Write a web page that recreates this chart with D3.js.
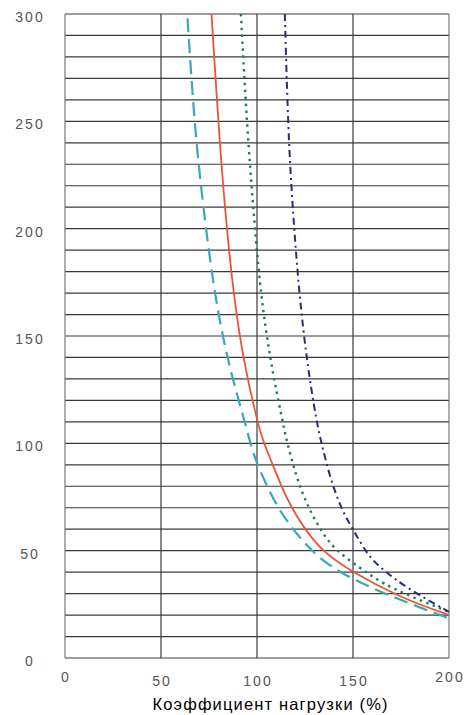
<!DOCTYPE html>
<html>
<head>
<meta charset="utf-8">
<script src="https://cdn.jsdelivr.net/npm/d3@7"></script>
<style>
  html, body { margin: 0; padding: 0; background: #fff; overflow: hidden; }
  svg { display: block; }
  .tick-label { font-family: "Liberation Sans", Arial, sans-serif; font-size: 14px; fill: #555; letter-spacing: 2px; }
  .axis-title { font-family: "Liberation Sans", Arial, sans-serif; font-size: 16.5px; fill: #000; }
</style>
</head>
<body>
<div id="chart"></div>
<script>
// axis ticks
const xTicks = [0, 50, 100, 150, 200];
const yTicks = [0, 50, 100, 150, 200, 250, 300];
const yGrid = d3.range(0, 301, 10);

// curves: [load %, value]
const redSolid = [[76.3, 300], [80.1, 246], [83.2, 210], [87.6, 170], [93, 138], [100.2, 110], [103, 101.5], [108.2, 90], [112.7, 80], [118, 70], [124.9, 60], [134.2, 49.5], [149.5, 40], [175, 28], [200, 20]];
const cyanDash = [[63.8, 298], [67.6, 246], [72, 210], [77.7, 170], [85, 137], [93.7, 110], [97.1, 98], [100, 90.5], [106.7, 77], [113.6, 66], [122.3, 56], [131, 47.5], [144.8, 38.7], [170, 28.5], [200, 18.5]];
const greenDot = [[91.6, 300], [94.9, 246], [98, 210], [101.8, 170], [107, 138], [113.4, 110], [115.3, 101.5], [120.5, 84.4], [125.7, 72], [132.7, 60], [140.5, 50.3], [155.2, 41], [168, 33], [200, 21.5]];
const navyDashDot = [[114.5, 300], [116.2, 246], [118.5, 210], [121.9, 170], [126, 138], [131, 110], [133.6, 100], [137.9, 84.4], [144, 69], [150, 60], [157, 48.8], [164, 42], [179.5, 31.7], [200, 21.5]];

const width = 470, height = 715;
const margin = { top: 14, right: 21, bottom: 57, left: 65 };
const innerWidth = width - margin.left - margin.right;
const innerHeight = height - margin.top - margin.bottom;

const svg = d3.select("#chart")
    .append("svg")
    .attr("width", width)
    .attr("height", height);

const xScale = d3.scaleLinear().domain([0, 200]).range([0, innerWidth]);
const yScale = d3.scaleLinear().domain([0, 300]).range([innerHeight, 0]);

const inner = svg.append("g")
    .attr("transform", `translate(${margin.left}, ${margin.top})`);

// horizontal grid
inner.selectAll(".hgrid")
    .data(yGrid)
    .join("line")
    .attr("class", "hgrid")
    .attr("x1", 0)
    .attr("x2", innerWidth)
    .attr("y1", d => yScale(d))
    .attr("y2", d => yScale(d))
    .attr("stroke", "#3a3a3a")
    .attr("stroke-width", 1.2);

// vertical grid
inner.selectAll(".vgrid")
    .data(xTicks)
    .join("line")
    .attr("class", "vgrid")
    .attr("x1", d => xScale(d))
    .attr("x2", d => xScale(d))
    .attr("y1", 0)
    .attr("y2", innerHeight)
    .attr("stroke", d => (d === 0 || d === 200) ? "#777" : "#3a3a3a")
    .attr("stroke-width", 1.2);

// tick labels
svg.selectAll(".ylab")
    .data(yTicks)
    .join("text")
    .attr("class", "tick-label ylab")
    .attr("x", 30)
    .attr("y", d => margin.top + yScale(d) + 8)
    .attr("text-anchor", "middle")
    .text(d => d);

svg.selectAll(".xlab")
    .data(xTicks)
    .join("text")
    .attr("class", "tick-label xlab")
    .attr("x", d => margin.left + xScale(d) + 1)
    .attr("y", (d, i) => (i === 0 || i === 4) ? 682 : 686)
    .attr("text-anchor", "middle")
    .text(d => d);

svg.append("text")
    .attr("class", "axis-title")
    .attr("x", 270)
    .attr("y", 710)
    .attr("text-anchor", "middle")
    .attr("textLength", 235)
    .text("Коэффициент нагрузки (%)");

// curves
const line = d3.line()
    .x(d => xScale(d[0]))
    .y(d => yScale(d[1]))
    .curve(d3.curveBasis);

const series = [
    { data: cyanDash, color: "#3aa9b3", width: 2.2, dash: "14,7" },
    { data: greenDot, color: "#1f7d45", width: 2.4, dash: "2.4,4.5" },
    { data: navyDashDot, color: "#2b2b78", width: 2, dash: "7,4,2,4" },
    { data: redSolid, color: "#ea5535", width: 1.8, dash: null }
];

inner.selectAll(".curve")
    .data(series)
    .join("path")
    .attr("class", "curve")
    .attr("d", d => line(d.data))
    .attr("fill", "none")
    .attr("stroke", d => d.color)
    .attr("stroke-width", d => d.width)
    .attr("stroke-dasharray", d => d.dash);
</script>
</body>
</html>
